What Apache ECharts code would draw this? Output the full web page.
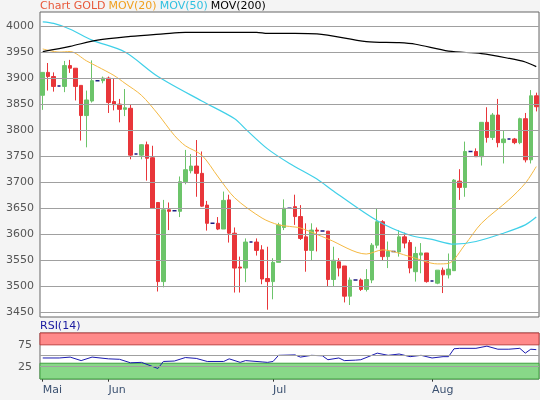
<!DOCTYPE html>
<html><head><meta charset="utf-8">
<script src="https://cdn.jsdelivr.net/npm/echarts@6/dist/echarts.min.js"></script>
<style>html,body{margin:0;padding:0;background:#f4f4f4}#c{width:540px;height:400px}</style>
</head><body><div id="c"></div>
<script>
const monthLabels = {0:'Mai',12:'Jun',42:'Jul',71:'Aug'};
const opens  = [3867,3911,3903,3885,3884,3924,3919,3886,3828,3856,3895,3895,3900,3855,3850,3840,3842,3754,3752,3772,3747,3661,3509,3647,3645,3644,3701,3722,3731,3717,3656,3621,3621,3610,3666,3602,3537,3535,3585,3585,3570,3515,3509,3546,3613,3650,3653,3634,3595,3569,3608,3606,3606,3513,3547,3539,3481,3512,3512,3494,3512,3579,3624,3557,3567,3566,3595,3584,3528,3560,3564,3510,3506,3531,3522,3530,3702,3690,3759,3759,3749,3815,3786,3829,3776,3783,3783,3776,3822,3743,3866];
const closes = [3911,3903,3884,3885,3924,3919,3884,3828,3858,3895,3895,3900,3853,3849,3840,3843,3752,3754,3772,3746,3650,3509,3647,3644,3645,3701,3724,3731,3717,3654,3621,3621,3610,3665,3602,3535,3535,3585,3585,3569,3514,3509,3546,3618,3650,3650,3634,3592,3569,3608,3606,3606,3513,3550,3535,3481,3512,3512,3494,3513,3579,3624,3557,3567,3567,3595,3583,3535,3563,3564,3509,3510,3531,3522,3533,3704,3690,3759,3759,3749,3815,3786,3829,3776,3783,3783,3776,3822,3743,3866,3845];
const lows   = [3839,3876,3874,3885,3873,3910,3857,3780,3767,3853,3895,3890,3833,3838,3815,3827,3744,3754,3744,3703,3650,3490,3498,3608,3645,3633,3696,3717,3672,3653,3607,3621,3608,3610,3584,3488,3488,3508,3585,3559,3504,3455,3475,3546,3608,3650,3618,3589,3528,3550,3567,3606,3500,3500,3519,3469,3464,3512,3491,3490,3506,3573,3549,3535,3567,3557,3573,3525,3509,3525,3507,3510,3504,3487,3515,3530,3666,3672,3759,3749,3732,3776,3781,3767,3736,3783,3773,3773,3738,3736,3836];
const highs  = [3911,3929,3911,3885,3933,3935,3919,3886,3876,3934,3895,3903,3903,3900,3860,3879,3850,3754,3773,3778,3770,3661,3666,3661,3645,3711,3762,3754,3781,3759,3664,3621,3633,3682,3676,3613,3557,3592,3585,3592,3579,3576,3554,3622,3667,3650,3676,3656,3621,3621,3613,3606,3606,3576,3554,3539,3517,3512,3515,3533,3583,3650,3627,3586,3567,3608,3603,3589,3576,3583,3564,3510,3531,3536,3563,3706,3725,3778,3759,3765,3815,3844,3833,3860,3799,3783,3785,3824,3833,3877,3872];
const dojiIdx = [3,10,17,24,31,38,45,51,57,64,71,78,85];
const ma20Pts  = [[0,3956],[3,3950],[5,3951],[8,3933],[10,3922],[13,3905],[15,3890],[18,3867],[21,3831],[24,3790],[26,3770],[29,3752],[32,3710],[35,3670],[40,3631],[43,3618],[45,3615],[47,3612],[52,3591],[59,3562],[62,3570],[67,3557],[72,3543],[74,3544],[77,3580],[80,3621],[85,3666],[88,3698],[90,3730]];
const ma50Pts  = [[0,4008],[2,4005],[5,3994],[9,3973],[15,3950],[21,3903],[29,3856],[35,3822],[37,3802],[41,3764],[45,3736],[50,3706],[53,3683],[61,3626],[67,3598],[71,3590],[75,3581],[79,3586],[84,3602],[88,3618],[90,3633]];
const ma200Pts = [[0,3951],[5,3961],[10,3973],[16,3980],[22,3985],[26,3988],[39,3988],[41,3986],[46,3986],[50,3985],[59,3970],[65,3968],[68,3965],[74,3952],[80,3947],[85,3938],[88,3931],[90,3922]];
const rsiPts = [[0,45],[3,45],[5,47],[7,39],[9,47],[12,43],[14,42],[16,34],[18,35],[21,21],[22,37],[24,38],[26,46],[28,44],[30,37],[33,37],[34,43],[36,35],[37,39],[40,36],[41,35],[42,37],[43,51],[46,52],[47,47],[49,51],[51,50],[52,41],[54,45],[55,39],[57,40],[58,41],[61,56],[63,51],[65,54],[67,48],[69,51],[71,45],[73,48],[74,48],[75,66],[76,67],[79,67],[81,72],[83,65],[85,65],[87,67],[88,56],[89,65],[90,64]];
const priceTicks = [3450,3500,3550,3600,3650,3700,3750,3800,3850,3900,3950,4000];
const rsiTicks = [25,75];

const N = opens.length;
const cats = Array.from({length:N},(_,i)=>String(i));
const candle = opens.map((o,i)=>{
  const d = {value:[o,closes[i],lows[i],highs[i]]};
  if (dojiIdx.includes(i)) d.itemStyle = {color:'#1a1a80',color0:'#1a1a80',borderColor:'#1a1a80',borderColor0:'#1a1a80',borderWidth:1.5};
  return d;
});
function toSeries(pts){const a=new Array(N).fill(null);pts.forEach(p=>a[p[0]]=p[1]);return a;}
const gl = {color:'#a0a0a0',width:1,type:'solid'};
const lbl = {color:'#555',fontSize:11,fontFamily:'DejaVu Sans'};
const chart = echarts.init(document.getElementById('c'));
chart.setOption({
  animation:false,
  backgroundColor:'#f4f4f4',
  title:{left:40,top:1,padding:0,text:'{a|Chart GOLD} {b|MOV(20)} {c|MOV(50)} {d|MOV(200)}',
    textStyle:{fontSize:11,fontWeight:'normal',rich:{a:{color:'#e8583a',fontSize:11,fontFamily:'DejaVu Sans'},b:{color:'#f0a020',fontSize:11,fontFamily:'DejaVu Sans'},c:{color:'#30c0e0',fontSize:11,fontFamily:'DejaVu Sans'},d:{color:'#000',fontSize:11,fontFamily:'DejaVu Sans'}}}},
  graphic:[{type:'text',left:40,top:321,style:{text:'RSI(14)',fill:'#1a1aa0',font:'11px DejaVu Sans'}}],
  grid:[{left:40,right:1,top:12,height:305,show:true,backgroundColor:'#fff',borderColor:'#666',borderWidth:1},
        {left:40,right:1,top:333,height:46,show:true,backgroundColor:'#fff',borderColor:'#666',borderWidth:1}],
  xAxis:[{gridIndex:0,type:'category',data:cats,boundaryGap:true,axisLine:{show:false},axisTick:{show:false},axisLabel:{show:false}},
         {gridIndex:1,type:'category',data:cats,boundaryGap:true,axisLine:{show:false},
          axisTick:{show:true,alignWithLabel:true,interval:(i)=>monthLabels[i]!==undefined,length:4,inside:false,lineStyle:{color:'#333'}},
          axisLabel:{interval:(i)=>monthLabels[i]!==undefined,formatter:(v,i)=>monthLabels[i]||'',align:'left',margin:6,color:'#3a5070',fontSize:11,fontFamily:'DejaVu Sans',showMinLabel:true}}],
  yAxis:[{gridIndex:0,min:3441,max:4027,axisLine:{show:false},axisTick:{show:false},splitLine:{show:false},
          axisLabel:Object.assign({customValues:priceTicks,margin:6,formatter:v=>String(v)},lbl)},
         {gridIndex:1,min:-3,max:102,axisLine:{show:false},axisTick:{show:false},splitLine:{show:false},
          axisLabel:Object.assign({customValues:rsiTicks,margin:8,formatter:v=>String(v)},lbl)}],
  series:[
    {type:'candlestick',xAxisIndex:0,yAxisIndex:0,data:candle,barWidth:4,
     itemStyle:{color:'#6cc46a',color0:'#e8363a',borderColor:'#6cc46a',borderColor0:'#e8363a',borderWidth:1},
     markLine:{silent:true,symbol:'none',label:{show:false},lineStyle:gl,data:priceTicks.map(v=>({yAxis:v}))},z:3},
    {type:'line',xAxisIndex:0,yAxisIndex:0,data:toSeries(ma20Pts),connectNulls:true,smooth:0.3,showSymbol:false,lineStyle:{color:'#f5b942',width:1},z:4},
    {type:'line',xAxisIndex:0,yAxisIndex:0,data:toSeries(ma50Pts),connectNulls:true,smooth:0.3,showSymbol:false,lineStyle:{color:'#40d0e8',width:1.2},z:4},
    {type:'line',xAxisIndex:0,yAxisIndex:0,data:toSeries(ma200Pts),connectNulls:true,smooth:0.3,showSymbol:false,lineStyle:{color:'#000',width:1.2},z:4},
    {type:'line',xAxisIndex:1,yAxisIndex:1,data:toSeries(rsiPts),connectNulls:true,showSymbol:false,lineStyle:{color:'#1a1ab0',width:1},z:4,
     markArea:{silent:true,data:[[{yAxis:75,itemStyle:{color:'#ff8a8a',borderColor:'#c04040',borderWidth:1}},{yAxis:102}],[{yAxis:-3,itemStyle:{color:'#88d888',borderColor:'#40a040',borderWidth:1}},{yAxis:33}]]},
     markLine:{silent:true,symbol:'none',label:{show:false},lineStyle:gl,data:[{yAxis:25},{yAxis:51}]}}
  ]
});
</script></body></html>
